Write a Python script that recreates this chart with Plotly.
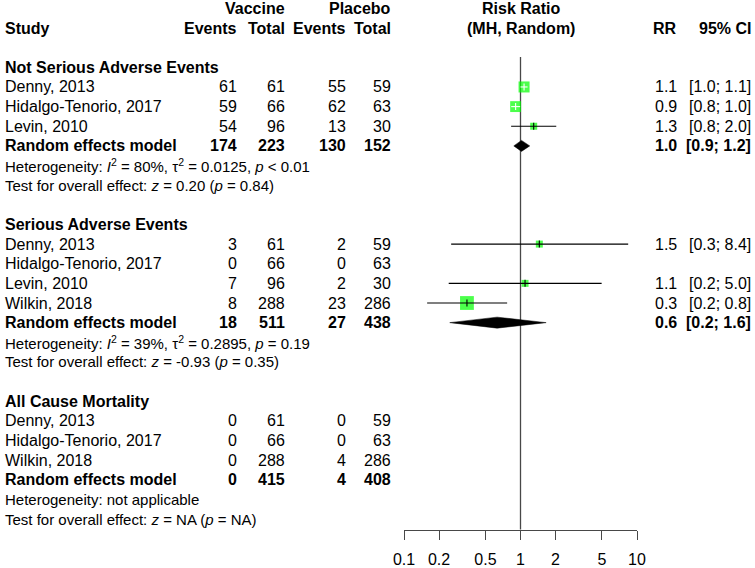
import math
import plotly.graph_objects as go

# ---------------- data ----------------
group_names = ["Not Serious Adverse Events", "Serious Adverse Events", "All Cause Mortality"]
study_group = [0, 0, 0, 1, 1, 1, 1, 2, 2, 2]
study_names = ["Denny, 2013", "Hidalgo-Tenorio, 2017", "Levin, 2010",
               "Denny, 2013", "Hidalgo-Tenorio, 2017", "Levin, 2010", "Wilkin, 2018",
               "Denny, 2013", "Hidalgo-Tenorio, 2017", "Wilkin, 2018"]
vac_events = [61, 59, 54, 3, 0, 7, 8, 0, 0, 0]
vac_total = [61, 66, 96, 61, 66, 96, 288, 61, 66, 288]
pla_events = [55, 62, 13, 2, 0, 2, 23, 0, 0, 4]
pla_total = [59, 63, 30, 59, 63, 30, 286, 59, 63, 286]
study_rr = [1.073, 0.908, 1.298, 1.451, None, 1.094, 0.347, None, None, None]
study_lower = [1.000, 0.832, 0.831, 0.254, None, 0.242, 0.158, None, None, None]
study_upper = [1.150, 0.992, 2.027, 8.40, None, 4.97, 0.768, None, None, None]
study_weight = [42, 41, 17, 17, None, 17, 66, None, None, None]
study_rr_labels = ["1.1", "0.9", "1.3", "1.5", "", "1.1", "0.3", "", "", ""]
study_ci_labels = ["[1.0; 1.1]", "[0.8; 1.0]", "[0.8; 2.0]", "[0.3; 8.4]", "",
                   "[0.2; 5.0]", "[0.2; 0.8]", "", "", ""]

pooled_vac_events = [174, 18, 0]
pooled_vac_total = [223, 511, 415]
pooled_pla_events = [130, 27, 4]
pooled_pla_total = [152, 438, 408]
pooled_rr = [1.02, 0.63, None]
pooled_lower = [0.876, 0.247, None]
pooled_upper = [1.20, 1.66, None]
pooled_rr_labels = ["1.0", "0.6", ""]
pooled_ci_labels = ["[0.9; 1.2]", "[0.2; 1.6]", ""]
het_labels = [
    "Heterogeneity: <i>I</i><sup>2</sup> = 80%, τ<sup>2</sup> = 0.0125, <i>p</i> &lt; 0.01",
    "Heterogeneity: <i>I</i><sup>2</sup> = 39%, τ<sup>2</sup> = 0.2895, <i>p</i> = 0.19",
    "Heterogeneity: not applicable",
]
test_labels = [
    "Test for overall effect: <i>z</i> = 0.20 (<i>p</i> = 0.84)",
    "Test for overall effect: <i>z</i> = -0.93 (<i>p</i> = 0.35)",
    "Test for overall effect: <i>z</i> = NA (<i>p</i> = NA)",
]
tick_values = [0.1, 0.2, 0.5, 1, 2, 5, 10]
tick_labels = ["0.1", "0.2", "0.5", "1", "2", "5", "10"]

# ---------------- layout constants ----------------
W, H = 755, 568
FONT = "Liberation Sans, Arial, sans-serif"
FS = 16
FS_STAT = 15
X_STUDY, X_VE, X_VT, X_PE, X_PT, X_RR, X_CI = 3, 239, 287, 348, 393, 679, 753
FOREST_L, FOREST_R = 404, 637
ROW0_PX, ROW_H = 8.4, 19.64
AXIS_PX = 529.5
PX_PER_DECADE = (FOREST_R - FOREST_L) / 2.0

def px_to_row(py):
    return (py - ROW0_PX) / ROW_H

study_rows = []
group_title_rows, pooled_rows, het_rows, test_rows = [], [], [], []
r = 3
for g in range(len(group_names)):
    group_title_rows.append(r)
    r += 1
    for i, sg in enumerate(study_group):
        if sg == g:
            study_rows.append(r)
            r += 1
    pooled_rows.append(r); r += 1
    het_rows.append(r); r += 1
    test_rows.append(r); r += 2

fig = go.Figure()
ann = []

def txt(x, row, s, anchor="left", bold=False, size=FS, xref="x"):
    if bold:
        s = "<b>" + s + "</b>"
    ann.append(dict(x=x, y=row, xref=xref, yref="y", text=s, showarrow=False,
                    xanchor=anchor, yanchor="middle",
                    font=dict(family=FONT, size=size, color="black")))

txt(X_VT, 0, "Vaccine", "right", True)
txt(X_PT, 0, "Placebo", "right", True)
txt(X_STUDY, 1, "Study", "left", True)
txt(X_VE, 1, "Events", "right", True)
txt(X_VT, 1, "Total", "right", True)
txt(X_PE, 1, "Events", "right", True)
txt(X_PT, 1, "Total", "right", True)
txt(X_RR, 1, "RR", "right", True)
txt(X_CI, 1, "95% CI", "right", True)
# log axis: annotation x given in log10 units (log10(1) = 0)
txt(0, 0, "Risk Ratio", "center", True, xref="x2")
txt(0, 1, "(MH, Random)", "center", True, xref="x2")

for g in range(len(group_names)):
    txt(X_STUDY, group_title_rows[g], group_names[g], "left", True)
    pr = pooled_rows[g]
    txt(X_STUDY, pr, "Random effects model", "left", True)
    txt(X_VE, pr, str(pooled_vac_events[g]), "right", True)
    txt(X_VT, pr, str(pooled_vac_total[g]), "right", True)
    txt(X_PE, pr, str(pooled_pla_events[g]), "right", True)
    txt(X_PT, pr, str(pooled_pla_total[g]), "right", True)
    if pooled_rr_labels[g]:
        txt(X_RR, pr, pooled_rr_labels[g], "right", True)
        txt(X_CI, pr, pooled_ci_labels[g], "right", True)
    txt(X_STUDY, het_rows[g], het_labels[g], "left", size=FS_STAT)
    txt(X_STUDY, test_rows[g], test_labels[g], "left", size=FS_STAT)

for i, name in enumerate(study_names):
    rw = study_rows[i]
    txt(X_STUDY, rw, name, "left")
    txt(X_VE, rw, str(vac_events[i]), "right")
    txt(X_VT, rw, str(vac_total[i]), "right")
    txt(X_PE, rw, str(pla_events[i]), "right")
    txt(X_PT, rw, str(pla_total[i]), "right")
    if study_rr_labels[i]:
        txt(X_RR, rw, study_rr_labels[i], "right")
        txt(X_CI, rw, study_ci_labels[i], "right")

# reference line at RR = 1
fig.add_trace(go.Scatter(x=[1, 1], y=[px_to_row(57), px_to_row(AXIS_PX)],
                         xaxis="x2", yaxis="y", mode="lines",
                         line=dict(color="#484848", width=1.3),
                         hoverinfo="skip", showlegend=False))

# study squares
sq_x, sq_y, sq_s = [], [], []
for i in range(len(study_names)):
    if study_rr[i] is not None:
        sq_x.append(study_rr[i]); sq_y.append(study_rows[i])
        sq_s.append(1.7 * math.sqrt(study_weight[i]))
fig.add_trace(go.Scatter(x=sq_x, y=sq_y, xaxis="x2", yaxis="y", mode="markers",
                         marker=dict(symbol="square", size=sq_s, color="#00FF00",
                                     line=dict(width=0)),
                         hoverinfo="skip", showlegend=False))

# CI lines (white if fully inside the square)
for color in ["black", "white"]:
    lx, ly, tx, ty = [], [], [], []
    for i in range(len(study_names)):
        if study_rr[i] is None:
            continue
        half = 1.7 * math.sqrt(study_weight[i]) / 2
        ext_l = PX_PER_DECADE * math.log10(study_rr[i] / study_lower[i])
        ext_r = PX_PER_DECADE * math.log10(study_upper[i] / study_rr[i])
        inside = ext_l < half and ext_r < half
        if (color == "white") != inside:
            continue
        lx += [study_lower[i], study_upper[i], None]
        ly += [study_rows[i], study_rows[i], None]
        tx.append(study_rr[i]); ty.append(study_rows[i])
    if lx:
        fig.add_trace(go.Scatter(x=lx, y=ly, xaxis="x2", yaxis="y", mode="lines",
                                 line=dict(color=color, width=1.1),
                                 hoverinfo="skip", showlegend=False))
        fig.add_trace(go.Scatter(x=tx, y=ty, xaxis="x2", yaxis="y", mode="markers",
                                 marker=dict(symbol="line-ns", size=5,
                                             line=dict(color=color, width=1.1)),
                                 hoverinfo="skip", showlegend=False))

# pooled diamonds
dh = 5.5 / ROW_H
for g in range(len(group_names)):
    if pooled_rr[g] is None:
        continue
    pr = pooled_rows[g]
    fig.add_trace(go.Scatter(
        x=[pooled_lower[g], pooled_rr[g], pooled_upper[g], pooled_rr[g], pooled_lower[g]],
        y=[pr, pr - dh, pr, pr + dh, pr], xaxis="x2", yaxis="y", mode="lines",
        fill="toself", fillcolor="black", line=dict(color="black", width=0.5),
        hoverinfo="skip", showlegend=False))

fig.update_layout(
    width=W, height=H, autosize=False,
    margin=dict(l=0, r=0, t=0, b=0, autoexpand=False),
    paper_bgcolor="white", plot_bgcolor="rgba(0,0,0,0)",
    annotations=ann,
    xaxis=dict(range=[0, W], domain=[0, 1], visible=False, fixedrange=True, automargin=False),
    yaxis=dict(range=[px_to_row(H), px_to_row(0)], domain=[0, 1], visible=False,
               fixedrange=True, automargin=False),
    xaxis2=dict(type="log", range=[-1, 1], domain=[FOREST_L / W, FOREST_R / W],
                anchor="free", position=1 - AXIS_PX / H, automargin=False,
                showline=True, linecolor="#484848", linewidth=1.3,
                ticks="outside", ticklen=9, tickwidth=1.3, tickcolor="#484848",
                tickvals=tick_values, ticktext=tick_labels,
                tickfont=dict(family=FONT, size=FS, color="black"),
                ticklabelstandoff=6,
                showgrid=False, zeroline=False, fixedrange=True),
)

fig.write_html("out.html",
               config={"displayModeBar": False},
               post_script="document.body.style.margin='0';document.body.style.overflow='hidden';")
